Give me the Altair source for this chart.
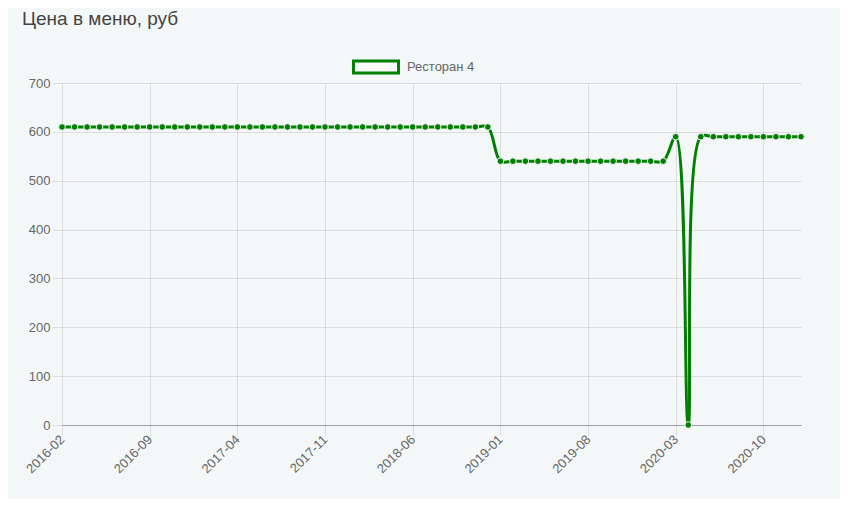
import altair as alt
import pandas as pd

# Categories: monthly labels from 2016-02 to 2021-01
months = []
y, m = 2016, 2
for _ in range(60):
    months.append(f"{y}-{m:02d}")
    m += 1
    if m > 12:
        m = 1
        y += 1

# Series values (price in menu, rub)
prices = (
    [610] * 35      # 2016-02 .. 2018-12
    + [540] * 14    # 2019-01 .. 2020-02
    + [590]         # 2020-03
    + [0]           # 2020-04
    + [590] * 9     # 2020-05 .. 2021-01
)

series_name = "Ресторан 4"
tick_labels = months[::7]
y_ticks = [0, 100, 200, 300, 400, 500, 600, 700]

df = pd.DataFrame({"month": months, "price": prices, "series": series_name})

GREEN = "#008000"
FONT = "Liberation Sans"
BG = "#f4f7f8"

x_enc = alt.X(
    "month:O",
    sort=months,
    scale=alt.Scale(type="point", padding=0),
    axis=alt.Axis(
        title=None,
        values=tick_labels,
        labelAngle=-45,
        labelAlign="right",
        labelBaseline="middle",
        labelPadding=2,
        tickSize=10,
        tickColor="rgba(0,0,0,0.1)",
        grid=True,
        gridColor="rgba(0,0,0,0.1)",
        domainColor="rgba(0,0,0,0.28)",
        labelColor="#666666",
        labelFontSize=13,
        labelFont=FONT,
    ),
)
y_enc = alt.Y(
    "price:Q",
    scale=alt.Scale(domain=[0, 700], nice=False),
    axis=alt.Axis(
        title=None,
        values=y_ticks,
        tickSize=10,
        tickColor="rgba(0,0,0,0.1)",
        labelPadding=2,
        grid=True,
        gridColor="rgba(0,0,0,0.1)",
        domain=False,
        labelColor="#666666",
        labelFontSize=13,
        labelFont=FONT,
    ),
)

line = alt.Chart(df).mark_line(
    strokeWidth=3, interpolate="catmull-rom", tension=0.5
).encode(
    x=x_enc,
    y=y_enc,
    color=alt.Color(
        "series:N",
        scale=alt.Scale(range=[GREEN]),
        legend=alt.Legend(
            title=None,
            orient="none",
            legendX=290,
            legendY=-40,
            symbolType="M-1,-0.27H1V0.27H-1Z",
            symbolSize=2025,
            symbolStrokeWidth=3,
            symbolStrokeColor=GREEN,
            symbolFillColor="#fafcfc",
            symbolOpacity=1,
            labelFontSize=13,
            labelFont=FONT,
            labelColor="#666666",
            labelOffset=7,
            padding=0,
        ),
    ),
)

points = alt.Chart(df).mark_circle(
    size=44, color=GREEN, opacity=1, stroke=BG, strokeWidth=1
).encode(x=x_enc, y=y_enc)

chart = (
    alt.layer(line, points)
    .properties(
        width=739,
        height=342,
        autosize=alt.AutoSizeParams(type="none"),
        padding={"left": 54, "top": 75, "right": 39, "bottom": 74},
        background=BG,
        title=alt.TitleParams(
            "Цена в меню, руб",
            anchor="start",
            frame="group",
            fontSize=19,
            fontWeight="normal",
            font=FONT,
            color="#444444",
            dx=-40,
            offset=14,
        ),
    )
    .configure_view(strokeWidth=0)
)

chart.save("out.html", embed_options={"renderer": "svg", "actions": False})
